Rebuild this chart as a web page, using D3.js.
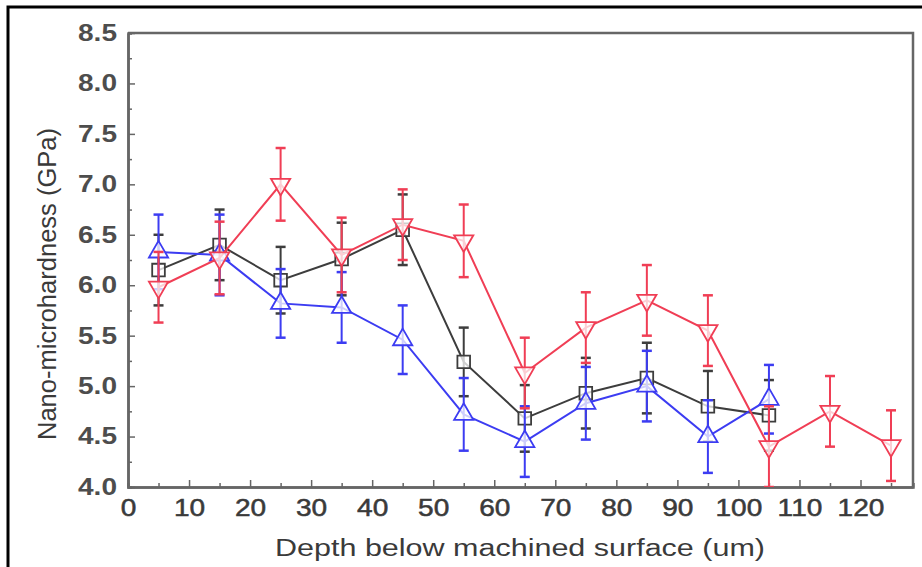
<!DOCTYPE html>
<html>
<head>
<meta charset="utf-8">
<script src="https://cdn.jsdelivr.net/npm/d3@7"></script>
<style>
  body { margin: 0; background: #fff; }
  text { font-family: "Liberation Sans", Arial, sans-serif; }
</style>
</head>
<body>
<div id="chart"></div>
<script>
// depth positions (um)
const depths = [5, 15, 25, 35, 45, 55, 65, 75, 85, 95, 105, 115, 125];

// hardness values (GPa)
const blackVals = [6.15, 6.4, 6.05, 6.26, 6.55, 5.24, 4.68, 4.93, 5.08, 4.8, 4.71];
const blackErr  = [0.35, 0.35, 0.33, 0.36, 0.35, 0.34, 0.33, 0.35, 0.35, 0.35, 0.35];
const blueVals  = [6.33, 6.3, 5.82, 5.78, 5.46, 4.72, 4.45, 4.83, 5.0, 4.5, 4.87];
const blueErr   = [0.37, 0.4, 0.34, 0.35, 0.34, 0.36, 0.35, 0.36, 0.35, 0.36, 0.34];
const redVals   = [5.98, 6.27, 7.0, 6.3, 6.6, 6.44, 5.13, 5.58, 5.85, 5.55, 4.4, 4.75, 4.41];
const redErr    = [0.35, 0.36, 0.36, 0.37, 0.35, 0.36, 0.35, 0.35, 0.35, 0.35, 0.4, 0.35, 0.35];

const xTicks = [0, 10, 20, 30, 40, 50, 60, 70, 80, 90, 100, 110, 120];
const yTicks = [4.0, 4.5, 5.0, 5.5, 6.0, 6.5, 7.0, 7.5, 8.0, 8.5];

const W = 922, H = 567;
const margin = {top: 33, right: 9, bottom: 80, left: 128};

const svg = d3.select('#chart').append('svg')
  .attr('width', W)
  .attr('height', H);

// outer frame of the figure (cut at right / bottom)
svg.append('path')
  .attr('d', 'M8,' + (H + 5) + 'V7H' + (W + 5))
  .attr('fill', 'none')
  .attr('stroke', '#000')
  .attr('stroke-width', 3);

const x = d3.scaleLinear().domain([0, 128.6]).range([margin.left, W - margin.right]);
const y = d3.scaleLinear().domain([4, 8.5]).range([H - margin.bottom, margin.top]);

const axisColor = '#666';
const labelColor = '#3a3a3a';

// the original figure is a bit stretched sideways
const stretch = 1.22;
function widen(sel) {
  sel.each(function() {
    const w = this.getComputedTextLength();
    d3.select(this).attr('textLength', w * stretch).attr('lengthAdjust', 'spacingAndGlyphs');
  });
}

svg.append('clipPath').attr('id', 'plotclip')
  .append('rect')
  .attr('x', margin.left).attr('y', margin.top)
  .attr('width', x.range()[1] - margin.left)
  .attr('height', y.range()[0] - margin.top);

// x axis with inward ticks
const xAxis = svg.append('g')
  .attr('transform', 'translate(0,' + y(4) + ')')
  .call(d3.axisBottom(x).tickValues(xTicks).tickSizeInner(-7).tickSizeOuter(0).tickPadding(12).tickFormat(d3.format('d')));
svg.append('g')
  .attr('transform', 'translate(0,' + y(4) + ')')
  .call(d3.axisBottom(x).tickValues(d3.range(5, 128, 10)).tickSize(-4).tickFormat(''));

// y axis with inward ticks
const yAxis = svg.append('g')
  .attr('transform', 'translate(' + margin.left + ',0)')
  .call(d3.axisLeft(y).tickValues(yTicks).tickSizeInner(-7).tickSizeOuter(0).tickPadding(11).tickFormat(d3.format('.1f')));
svg.append('g')
  .attr('transform', 'translate(' + margin.left + ',0)')
  .call(d3.axisLeft(y).tickValues(d3.range(4.25, 8.5, 0.5)).tickSize(-4).tickFormat(''));

svg.selectAll('.domain').attr('stroke', axisColor).attr('stroke-width', 2.5);
svg.selectAll('.tick line').attr('stroke', axisColor).attr('stroke-width', 1.5);

xAxis.selectAll('.tick text')
  .attr('fill', labelColor)
  .attr('dy', '0.75em')
  .style('font-size', '23px')
  .style('stroke', labelColor)
  .style('stroke-width', 0.5)
  .call(widen);

yAxis.selectAll('.tick text')
  .attr('fill', labelColor)
  .style('font-size', '23px')
  .style('font-weight', 'bold')
  .style('opacity', 0.9)
  .call(widen);

// top and right frame lines
svg.append('path')
  .attr('d', 'M' + margin.left + ',' + margin.top + 'H' + x.range()[1] + 'V' + y(4))
  .attr('fill', 'none')
  .attr('stroke', axisColor)
  .attr('stroke-width', 2.5);

// axis titles
svg.append('text')
  .attr('x', 520)
  .attr('y', 556)
  .attr('text-anchor', 'middle')
  .attr('fill', labelColor)
  .attr('textLength', 490)
  .attr('lengthAdjust', 'spacingAndGlyphs')
  .style('font-size', '23px')
  .text('Depth below machined surface (um)');

svg.append('text')
  .attr('transform', 'translate(56,' + 284 + ') rotate(-90)')
  .attr('text-anchor', 'middle')
  .attr('fill', labelColor)
  .attr('textLength', 312)
  .attr('lengthAdjust', 'spacingAndGlyphs')
  .style('font-size', '25px')
  .text('Nano-microhardness (GPa)');

const series = [
  {name: 'black', color: '#3d3d3d', vals: blackVals, err: blackErr, shape: 'square'},
  {name: 'blue', color: '#3c3cf2', vals: blueVals, err: blueErr, shape: 'up'},
  {name: 'red', color: '#f03e55', vals: redVals, err: redErr, shape: 'down'}
];

const plot = svg.append('g').attr('clip-path', 'url(#plotclip)');
const line = d3.line().x(d => x(d.x)).y(d => y(d.v));

series.forEach(s => {
  const pts = s.vals.map((v, i) => ({x: depths[i], v: v, e: s.err[i]}));
  const g = plot.append('g').attr('class', 'series-' + s.name);

  // error bars
  const eb = g.selectAll('.err').data(pts).enter().append('g').attr('class', 'err');
  eb.append('line')
    .attr('x1', d => x(d.x)).attr('x2', d => x(d.x))
    .attr('y1', d => y(d.v - d.e)).attr('y2', d => y(d.v + d.e))
    .attr('stroke', s.color).attr('stroke-width', 2);
  eb.append('line')
    .attr('x1', d => x(d.x) - 5).attr('x2', d => x(d.x) + 5)
    .attr('y1', d => y(d.v + d.e)).attr('y2', d => y(d.v + d.e))
    .attr('stroke', s.color).attr('stroke-width', 2.5);
  eb.append('line')
    .attr('x1', d => x(d.x) - 5).attr('x2', d => x(d.x) + 5)
    .attr('y1', d => y(d.v - d.e)).attr('y2', d => y(d.v - d.e))
    .attr('stroke', s.color).attr('stroke-width', 2.5);

  g.append('path')
    .datum(pts)
    .attr('d', line)
    .attr('fill', 'none')
    .attr('stroke', s.color)
    .attr('stroke-width', 2);

  // hollow markers
  let sym;
  if (s.shape === 'square') sym = d3.symbol().type(d3.symbolSquare).size(160);
  else sym = d3.symbol().type(d3.symbolTriangle).size(160);
  g.selectAll('.mk').data(pts).enter().append('path')
    .attr('class', 'mk')
    .attr('d', sym)
    .attr('transform', d => 'translate(' + x(d.x) + ',' + y(d.v) + ')' + (s.shape === 'down' ? ' rotate(180)' : ''))
    .attr('fill', '#fff')
    .attr('fill-opacity', 0.75)
    .attr('stroke', s.color)
    .attr('stroke-width', 1.8);
});
</script>
</body>
</html>
